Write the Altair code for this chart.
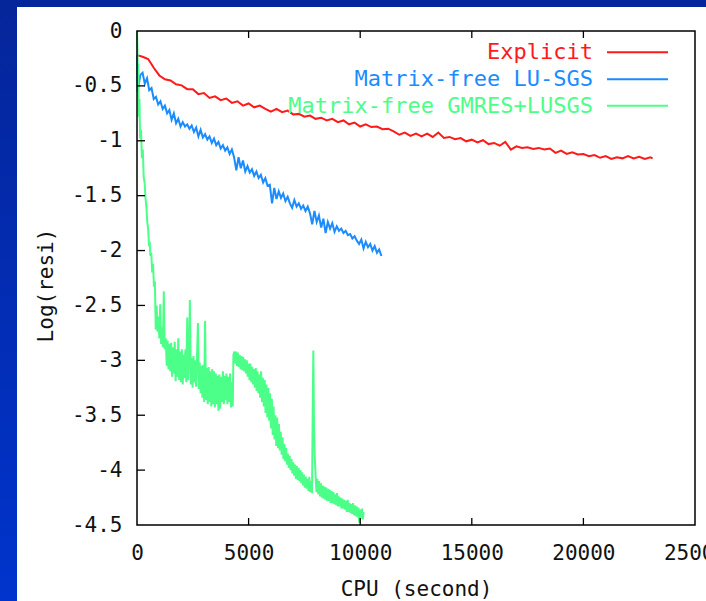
import altair as alt
import pandas as pd

# ---------------- data ----------------
series_names = ["Explicit", "Matrix-free LU-SGS", "Matrix-free GMRES+LUSGS"]
series_colors = ["#ff1a1a", "#1a8cff", "#4cff88"]

x_ticks = [0, 5000, 10000, 15000, 20000, 25000]
y_ticks = [0, -0.5, -1, -1.5, -2, -2.5, -3, -3.5, -4, -4.5]

red_x = [
    0, 250, 500, 750, 1000, 1250, 1500, 1750, 2000, 2250,
    2500, 2750, 3000, 3250, 3500, 3750, 4000, 4250, 4500, 4750,
    5000, 5250, 5500, 5750, 6000, 6250, 6500, 6750, 7000, 7250,
    7500, 7750, 8000, 8250, 8500, 8750, 9000, 9250, 9500, 9750,
    10000, 10250, 10500, 10750, 11000, 11250, 11500, 11750, 12000, 12250,
    12500, 12750, 13000, 13250, 13500, 13750, 14000, 14250, 14500, 14750,
    15000, 15250, 15500, 15750, 16000, 16250, 16500, 16750, 17000, 17250,
    17500, 17750, 18000, 18250, 18500, 18750, 19000, 19250, 19500, 19750,
    20000, 20250, 20500, 20750, 21000, 21250, 21500, 21750, 22000, 22250,
    22500, 22750, 23000, 23100,
]
red_y = [
    -0.220, -0.235, -0.255, -0.335, -0.405, -0.440, -0.450, -0.485, -0.495, -0.530,
    -0.530, -0.575, -0.565, -0.610, -0.595, -0.630, -0.615, -0.655, -0.640, -0.680,
    -0.660, -0.695, -0.680, -0.710, -0.735, -0.710, -0.740, -0.725, -0.760, -0.755,
    -0.780, -0.770, -0.800, -0.790, -0.815, -0.800, -0.830, -0.815, -0.850, -0.835,
    -0.870, -0.850, -0.875, -0.870, -0.895, -0.890, -0.915, -0.945, -0.925, -0.955,
    -0.935, -0.960, -0.935, -0.965, -0.925, -0.975, -0.965, -0.985, -0.975, -1.005,
    -0.990, -1.015, -0.995, -1.030, -1.020, -1.045, -1.010, -1.080, -1.050, -1.065,
    -1.060, -1.075, -1.065, -1.080, -1.070, -1.110, -1.090, -1.120, -1.105, -1.125,
    -1.120, -1.140, -1.130, -1.155, -1.140, -1.165, -1.150, -1.160, -1.140, -1.160,
    -1.145, -1.165, -1.150, -1.160,
]

blue_x = [
    0, 30, 150, 250, 350, 450, 550, 650, 750, 850,
    950, 1050, 1150, 1250, 1350, 1450, 1550, 1650, 1750, 1850,
    1950, 2050, 2150, 2250, 2350, 2450, 2550, 2650, 2750, 2850,
    2950, 3050, 3150, 3250, 3350, 3450, 3550, 3650, 3750, 3850,
    3950, 4050, 4150, 4250, 4350, 4450, 4550, 4650, 4750, 4850,
    4950, 5050, 5150, 5250, 5350, 5450, 5550, 5650, 5750, 5850,
    5950, 6050, 6150, 6250, 6350, 6450, 6550, 6650, 6750, 6850,
    6950, 7050, 7150, 7250, 7350, 7450, 7550, 7650, 7750, 7850,
    7950, 8050, 8150, 8250, 8350, 8450, 8550, 8650, 8750, 8850,
    8950, 9050, 9150, 9250, 9350, 9450, 9550, 9650, 9750, 9850,
    9950, 10050, 10150, 10250, 10350, 10450, 10550, 10650, 10750, 10850,
    10950,
]
blue_y = [
    -0.22, -0.55, -0.40, -0.38, -0.48, -0.43, -0.54, -0.52, -0.62, -0.60,
    -0.67, -0.64, -0.71, -0.68, -0.75, -0.72, -0.81, -0.75, -0.84, -0.80,
    -0.87, -0.83, -0.87, -0.85, -0.89, -0.86, -0.92, -0.88, -0.96, -0.90,
    -0.97, -0.94, -0.99, -0.96, -1.02, -0.98, -1.04, -1.01, -1.07, -1.04,
    -1.09, -1.06, -1.12, -1.08, -1.15, -1.27, -1.15, -1.25, -1.18, -1.28,
    -1.23, -1.29, -1.26, -1.32, -1.28, -1.34, -1.31, -1.38, -1.34, -1.41,
    -1.40, -1.57, -1.43, -1.53, -1.46, -1.52, -1.48, -1.55, -1.51, -1.57,
    -1.61, -1.54, -1.60, -1.57, -1.62, -1.59, -1.64, -1.60, -1.66, -1.76,
    -1.64, -1.74, -1.68, -1.79, -1.71, -1.84, -1.74, -1.80, -1.75, -1.83,
    -1.78, -1.82, -1.80, -1.84, -1.82, -1.86, -1.85, -1.89, -1.87, -1.91,
    -1.94, -1.90, -1.98, -1.92, -1.97, -1.94, -2.00, -1.96, -2.02, -1.99,
    -2.05,
]

green_x = [
    0, 20, 40, 60, 80, 110, 140, 180, 220, 260,
    300, 340, 380, 420, 460, 500, 540, 570, 600, 640,
    680, 720, 760, 800, 840, 880, 920, 960, 1000, 1040,
    1080, 1120, 1160, 1200, 1240, 1290, 1330, 1370, 1410, 1450,
    1490, 1530, 1570, 1610, 1650, 1690, 1730, 1770, 1810, 1850,
    1890, 1930, 1970, 2010, 2050, 2090, 2130, 2170, 2210, 2250,
    2290, 2330, 2370, 2410, 2450, 2490, 2530, 2570, 2610, 2650,
    2690, 2730, 2770, 2810, 2850, 2890, 2930, 2970, 3010, 3050,
    3090, 3130, 3170, 3210, 3250, 3290, 3330, 3370, 3410, 3450,
    3490, 3530, 3570, 3610, 3650, 3690, 3730, 3770, 3810, 3850,
    3890, 3930, 3970, 4010, 4050, 4090, 4130, 4170, 4210, 4250,
    4290, 4320, 4360, 4400, 4440, 4480, 4520, 4560, 4600, 4640,
    4680, 4720, 4760, 4800, 4840, 4880, 4920, 4960, 5000, 5040,
    5080, 5120, 5160, 5200, 5240, 5280, 5320, 5360, 5400, 5440,
    5480, 5520, 5560, 5600, 5640, 5680, 5720, 5760, 5800, 5840,
    5880, 5920, 5960, 6000, 6040, 6080, 6120, 6160, 6200, 6240,
    6280, 6320, 6360, 6400, 6440, 6480, 6520, 6560, 6600, 6640,
    6680, 6720, 6760, 6800, 6840, 6880, 6920, 6960, 7000, 7040,
    7080, 7120, 7160, 7200, 7240, 7280, 7320, 7360, 7400, 7440,
    7480, 7520, 7560, 7600, 7640, 7680, 7720, 7760, 7800, 7840,
    7880, 7900, 7930, 7960, 8000, 8040, 8080, 8120, 8160, 8200,
    8240, 8280, 8320, 8360, 8400, 8440, 8480, 8520, 8560, 8600,
    8640, 8680, 8720, 8760, 8800, 8840, 8880, 8920, 8960, 9000,
    9040, 9080, 9120, 9160, 9200, 9240, 9280, 9320, 9360, 9400,
    9440, 9480, 9520, 9560, 9600, 9640, 9680, 9720, 9760, 9800,
    9840, 9880, 9920, 9960, 10000, 10040, 10080, 10120, 10150,
]
green_y = [
    0.00, -0.15, -0.55, -0.30, -0.78, -0.62, -0.98, -0.90, -1.16, -1.08,
    -1.33, -1.38, -1.52, -1.60, -1.74, -1.80, -1.96, -1.92, -2.05, -2.02,
    -2.20, -2.12, -2.33, -2.28, -2.72, -2.50, -2.74, -2.60, -2.80, -2.49,
    -2.85, -2.70, -2.88, -2.37, -2.90, -2.80, -3.05, -2.82, -3.08, -2.85,
    -3.10, -2.84, -3.15, -2.88, -3.12, -2.83, -3.19, -2.90, -3.15, -2.80,
    -3.18, -2.92, -3.20, -2.90, -3.22, -2.95, -3.16, -2.90, -3.20, -2.61,
    -3.18, -2.95, -2.45, -3.22, -2.98, -3.25, -2.96, -3.20, -3.00, -3.24,
    -2.95, -2.66, -3.26, -3.02, -3.30, -3.05, -3.34, -3.04, -3.38, -2.64,
    -3.36, -3.07, -3.40, -3.06, -3.38, -3.10, -3.42, -3.08, -3.40, -3.10,
    -3.43, -3.12, -3.40, -3.14, -3.46, -3.13, -3.44, -3.15, -3.38, -3.10,
    -3.40, -3.14, -3.36, -3.12, -3.40, -3.15, -3.38, -3.12, -3.43, -3.20,
    -3.42, -2.95, -2.92, -3.03, -2.92, -3.05, -2.93, -3.06, -2.95, -3.08,
    -2.96, -3.09, -2.97, -3.10, -2.99, -3.12, -3.00, -3.15, -3.03, -3.18,
    -3.03, -3.20, -3.06, -3.22, -3.08, -3.25, -3.07, -3.28, -3.10, -3.30,
    -3.13, -3.34, -3.10, -3.38, -3.16, -3.42, -3.18, -3.48, -3.22, -3.52,
    -3.25, -3.55, -3.30, -3.62, -3.35, -3.68, -3.42, -3.72, -3.50, -3.78,
    -3.52, -3.80, -3.58, -3.82, -3.65, -3.86, -3.70, -3.90, -3.76, -3.92,
    -3.80, -3.95, -3.85, -3.98, -3.87, -4.00, -3.90, -4.03, -3.93, -4.05,
    -3.95, -4.08, -3.96, -4.09, -3.98, -4.10, -4.00, -4.12, -4.02, -4.14,
    -4.04, -4.16, -4.06, -4.17, -4.08, -4.19, -4.06, -4.20, -4.10, -4.21,
    -3.30, -2.91, -3.60, -3.86, -4.04, -4.20, -4.08, -4.22, -4.10, -4.24,
    -4.12, -4.25, -4.14, -4.26, -4.15, -4.27, -4.16, -4.28, -4.17, -4.28,
    -4.18, -4.30, -4.19, -4.30, -4.20, -4.31, -4.22, -4.32, -4.21, -4.33,
    -4.24, -4.33, -4.25, -4.35, -4.26, -4.35, -4.27, -4.36, -4.28, -4.38,
    -4.27, -4.38, -4.30, -4.39, -4.31, -4.40, -4.30, -4.41, -4.32, -4.42,
    -4.33, -4.43, -4.34, -4.48, -4.36, -4.44, -4.35, -4.45, -4.38,
]

# ---------------- build table ----------------
rows = []
for name, xs, ys in zip(series_names, [red_x, blue_x, green_x], [red_y, blue_y, green_y]):
    assert len(xs) == len(ys), name
    for i, (a, b) in enumerate(zip(xs, ys)):
        rows.append({"series": name, "cpu": a, "logres": b, "i": i})
df = pd.DataFrame(rows)

FONT = "DejaVu Sans Mono"
FS = 21
LEG_FS = 22
W, H = 558, 494
PAD_L, PAD_T, PAD_R, PAD_B = 137, 31, 11, 76
X_TITLE = "CPU (second)"
Y_TITLE = "Log(resi)"

one = pd.DataFrame({"k": [0]})

xscale = alt.Scale(domain=[0, 25000], nice=False, zero=False)
yscale = alt.Scale(domain=[-4.5, 0], nice=False, zero=False)

x_axis = alt.Axis(
    values=x_ticks, labelExpr="toString(datum.value)",
    domain=False, ticks=False, grid=False,
    labelFont=FONT, labelFontSize=FS, labelColor="#111111",
    labelBaseline="alphabetic", labelPadding=34,
    labelFlush=False, labelOverlap=False, labelBound=False,
    titleFont=FONT, titleFontSize=FS, titleFontWeight="normal",
    titleColor="#111111", titleBaseline="alphabetic", titleY=70,
    zindex=1,
)
y_axis = alt.Axis(
    values=y_ticks, labelExpr="toString(datum.value)",
    domain=False, ticks=False, grid=False,
    labelFont=FONT, labelFontSize=FS, labelColor="#111111",
    labelPadding=15, labelFlush=False, labelOverlap=False,
    labelBound=False,
    titleFont=FONT, titleFontSize=FS, titleFontWeight="normal",
    titleColor="#111111", titleBaseline="alphabetic",
    titleAlign="center", titleAngle=270, titleX=-85, titleY=254,
    zindex=1,
)

gradient = {
    "gradient": "linear",
    "x1": 0, "y1": 0, "x2": 0, "y2": 1,
    "stops": [
        {"offset": 0, "color": "#05259a"},
        {"offset": 1, "color": "#0034cc"},
    ],
}

bg = alt.Chart(one).mark_rect(color=gradient).encode(
    x=alt.value(-PAD_L), x2=alt.value(W + PAD_R),
    y=alt.value(-PAD_T), y2=alt.value(H + PAD_B),
)
panel = alt.Chart(one).mark_rect(color="white").encode(
    x=alt.value(-120), x2=alt.value(W + PAD_R),
    y=alt.value(-24), y2=alt.value(H + PAD_B),
)

lines = alt.Chart(df).mark_line().encode(
    x=alt.X("cpu:Q", scale=xscale, title=X_TITLE, axis=x_axis),
    y=alt.Y("logres:Q", scale=yscale, title=Y_TITLE, axis=y_axis),
    color=alt.Color("series:N", scale=alt.Scale(domain=series_names, range=series_colors), legend=None),
    strokeWidth=alt.StrokeWidth("series:N", scale=alt.Scale(domain=series_names, range=[2, 2, 2.6]), legend=None),
    order=alt.Order("i:Q"),
)

frame = alt.Chart(one).mark_rect(filled=False, color="black", strokeWidth=1.5).encode(
    x=alt.value(0), x2=alt.value(W), y=alt.value(0), y2=alt.value(H),
)

xt = pd.DataFrame({"tx": x_ticks[1:-1]})
yt = pd.DataFrame({"ty": y_ticks[1:-1]})
tick_bottom = alt.Chart(xt).mark_rule(color="black", strokeWidth=1.3).encode(
    x=alt.X("tx:Q", scale=xscale, title=X_TITLE, axis=x_axis), y=alt.value(H), y2=alt.value(H - 7))
tick_top = alt.Chart(xt).mark_rule(color="black", strokeWidth=1.3).encode(
    x=alt.X("tx:Q", scale=xscale, title=X_TITLE, axis=x_axis), y=alt.value(0), y2=alt.value(7))
tick_left = alt.Chart(yt).mark_rule(color="black", strokeWidth=1.3).encode(
    y=alt.Y("ty:Q", scale=yscale, title=Y_TITLE, axis=y_axis), x=alt.value(0), x2=alt.value(8))

legend_layers = []
legend_rows_y = [21.3, 48.3, 74.7]
for name, col, ly in zip(series_names, series_colors, legend_rows_y):
    ldf = pd.DataFrame({"label": [name]})
    legend_layers.append(
        alt.Chart(ldf).mark_text(align="right", baseline="middle", font=FONT,
                                 fontSize=LEG_FS, color=col).encode(
            x=alt.value(456), y=alt.value(ly), text="label:N")
    )
    legend_layers.append(
        alt.Chart(ldf).mark_rule(color=col, strokeWidth=2).encode(
            x=alt.value(470), x2=alt.value(531), y=alt.value(ly))
    )

chart = alt.layer(
    bg, panel, lines, frame, tick_bottom, tick_top, tick_left, *legend_layers
).properties(
    width=W, height=H,
    padding={"left": PAD_L, "top": PAD_T, "right": PAD_R, "bottom": PAD_B},
    autosize=alt.AutoSizeParams(type="none"),
    background="#0630b3",
).configure_view(stroke=None)

chart.save("out.html", embed_options={"renderer": "svg", "actions": False})
